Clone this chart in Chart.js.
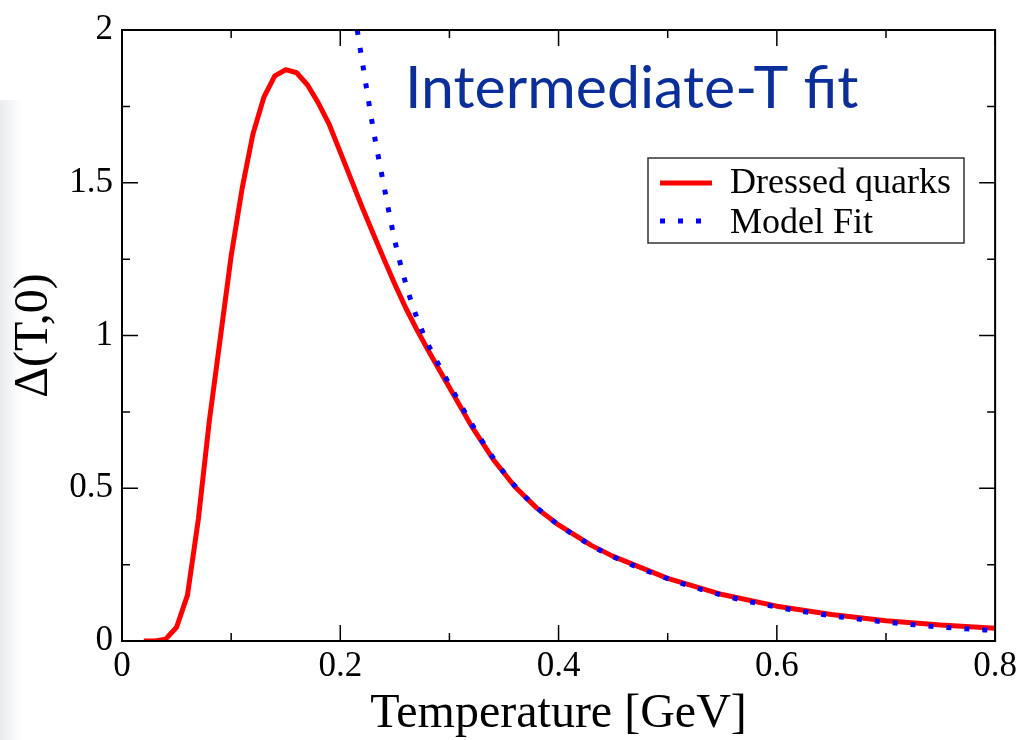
<!DOCTYPE html>
<html>
<head>
<meta charset="utf-8">
<script src="https://cdn.jsdelivr.net/npm/chart.js@4.4.0/dist/chart.umd.min.js"></script>
<style>
  body { margin: 0; background: #fff; }
  #wrap { position: relative; width: 1022px; height: 740px; }
  #shade { position: absolute; left: 0; top: 100px; width: 22px; height: 640px;
           background: linear-gradient(to right, #e9ebee, #ffffff); }
  #myChart { position: absolute; left: 0; top: 0; }
</style>
</head>
<body>
<div id="wrap">
  <div id="shade"></div>
  <canvas id="myChart" width="1022" height="740"></canvas>
</div>
<script>
// temperature (GeV) and gap for the dressed quark curve
var tempDressed = [0.02, 0.03, 0.04, 0.05, 0.06, 0.07, 0.08, 0.09, 0.10, 0.11, 0.12, 0.13, 0.14, 0.15,
                   0.16, 0.17, 0.18, 0.19, 0.20, 0.21, 0.22, 0.23, 0.24, 0.25, 0.26, 0.27, 0.28, 0.29,
                   0.30, 0.32, 0.34, 0.36, 0.38, 0.40, 0.43, 0.45, 0.50, 0.55, 0.60, 0.65, 0.70, 0.75, 0.80];
var gapDressed = [0, 0, 0.006, 0.045, 0.15, 0.40, 0.72, 0.99, 1.26, 1.48, 1.66, 1.78, 1.85, 1.87,
                  1.86, 1.82, 1.76, 1.69, 1.60, 1.51, 1.42, 1.335, 1.25, 1.168, 1.09, 1.02, 0.955, 0.892,
                  0.83, 0.705, 0.595, 0.505, 0.435, 0.38, 0.313, 0.277, 0.205, 0.152, 0.114, 0.087, 0.066, 0.052, 0.042];

// model fit curve
var tempFit = [0.2155, 0.22, 0.23, 0.24, 0.25, 0.26, 0.27, 0.28, 0.29, 0.30, 0.32, 0.34, 0.36, 0.38,
               0.40, 0.43, 0.45, 0.50, 0.55, 0.60, 0.65, 0.70, 0.75, 0.80];
var gapFit = [2.0, 1.90, 1.68, 1.49, 1.31, 1.17, 1.06, 0.975, 0.905, 0.84, 0.713, 0.60, 0.508, 0.437,
              0.38, 0.313, 0.276, 0.204, 0.150, 0.111, 0.083, 0.062, 0.046, 0.034];

var xTicks = [0, 0.2, 0.4, 0.6, 0.8];
var yTicks = [0, 0.5, 1, 1.5, 2];

function pts(xs, ys) {
    return xs.map(function (x, i) { return { x: x, y: ys[i] }; });
}

var serif = '"Liberation Serif", "Times New Roman", serif';

// frame, inward ticks, legend box and slide title
var decorations = {
    id: 'decorations',
    afterDraw: function (chart) {
        var c = chart.ctx, a = chart.chartArea;
        var xs = chart.scales.x, ys = chart.scales.y;
        c.save();
        c.strokeStyle = '#000';
        c.lineWidth = 1.5;
        c.beginPath();
        var v, p, len;
        for (v = 0; v <= 8; v++) {
            p = xs.getPixelForValue(v / 10);
            len = v % 2 === 0 ? 16 : 8;
            c.moveTo(p, a.bottom); c.lineTo(p, a.bottom - len);
            c.moveTo(p, a.top); c.lineTo(p, a.top + len);
        }
        for (v = 0; v <= 8; v++) {
            p = ys.getPixelForValue(v * 0.25);
            len = v % 2 === 0 ? 16 : 8;
            c.moveTo(a.left, p); c.lineTo(a.left + len, p);
            c.moveTo(a.right, p); c.lineTo(a.right - len, p);
        }
        c.stroke();
        c.lineWidth = 2;
        c.strokeRect(a.left, a.top, a.right - a.left, a.bottom - a.top);

        // legend
        c.fillStyle = '#fff';
        c.fillRect(648, 158, 316, 85);
        c.strokeStyle = '#333';
        c.lineWidth = 1.5;
        c.strokeRect(648, 158, 316, 85);
        c.lineWidth = 5;
        c.strokeStyle = '#ff0000';
        c.beginPath(); c.moveTo(660, 183); c.lineTo(712, 183); c.stroke();
        c.strokeStyle = '#0000ff';
        c.setLineDash([5, 13]);
        c.beginPath(); c.moveTo(660, 221); c.lineTo(712, 221); c.stroke();
        c.setLineDash([]);
        c.fillStyle = '#000';
        c.font = '36px ' + serif;
        c.textBaseline = 'alphabetic';
        c.fillText('Dressed quarks', 730, 193);
        c.fillText('Model Fit', 730, 233);

        // title
        c.fillStyle = '#0a2f9b';
        c.font = '59px Lato, "Open Sans", sans-serif';
        c.fillText('Intermediate-T fit', 405, 108);
        c.restore();
    }
};

var ctx = document.getElementById('myChart');
var myChart = new Chart(ctx, {
    type: 'line',
    data: {
        datasets: [{
            label: 'Dressed quarks',
            data: pts(tempDressed, gapDressed),
            borderColor: '#ff0000',
            borderWidth: 5,
            borderJoinStyle: 'round',
            pointRadius: 0,
            tension: 0,
            fill: false,
            order: 2
        }, {
            label: 'Model Fit',
            data: pts(tempFit, gapFit),
            borderColor: '#0000ff',
            borderWidth: 5,
            borderDash: [5, 13],
            borderCapStyle: 'butt',
            pointRadius: 0,
            cubicInterpolationMode: 'monotone',
            fill: false,
            order: 1
        }]
    },
    options: {
        responsive: false,
        animation: false,
        layout: { padding: { left: 0, right: 22, top: 26, bottom: 0 } },
        plugins: {
            legend: { display: false },
            tooltip: { enabled: false }
        },
        scales: {
            x: {
                type: 'linear',
                min: 0,
                max: 0.8,
                afterFit: function (s) { s.height = 99; },
                afterBuildTicks: function (s) { s.ticks = xTicks.map(function (v) { return { value: v }; }); },
                grid: { display: false, drawTicks: false },
                border: { display: false },
                ticks: {
                    padding: 5,
                    color: '#000',
                    font: { family: serif, size: 35 },
                    callback: function (v) { return String(+v.toFixed(1)); }
                },
                title: {
                    display: true,
                    text: 'Temperature [GeV]',
                    color: '#000',
                    font: { family: serif, size: 48, lineHeight: 1 },
                    padding: { top: 0, bottom: 2 }
                }
            },
            y: {
                min: 0,
                max: 2,
                afterFit: function (s) { s.width = 122; },
                afterBuildTicks: function (s) { s.ticks = yTicks.map(function (v) { return { value: v }; }); },
                grid: { display: false, drawTicks: false },
                border: { display: false },
                ticks: {
                    padding: 9,
                    color: '#000',
                    font: { family: serif, size: 35 },
                    callback: function (v) { return String(+v.toFixed(1)); }
                },
                title: {
                    display: true,
                    text: 'Δ(T,0)',
                    color: '#000',
                    font: { family: serif, size: 48, lineHeight: 1 },
                    padding: { top: 10, bottom: 0 }
                }
            }
        }
    },
    plugins: [decorations]
});
</script>
</body>
</html>
